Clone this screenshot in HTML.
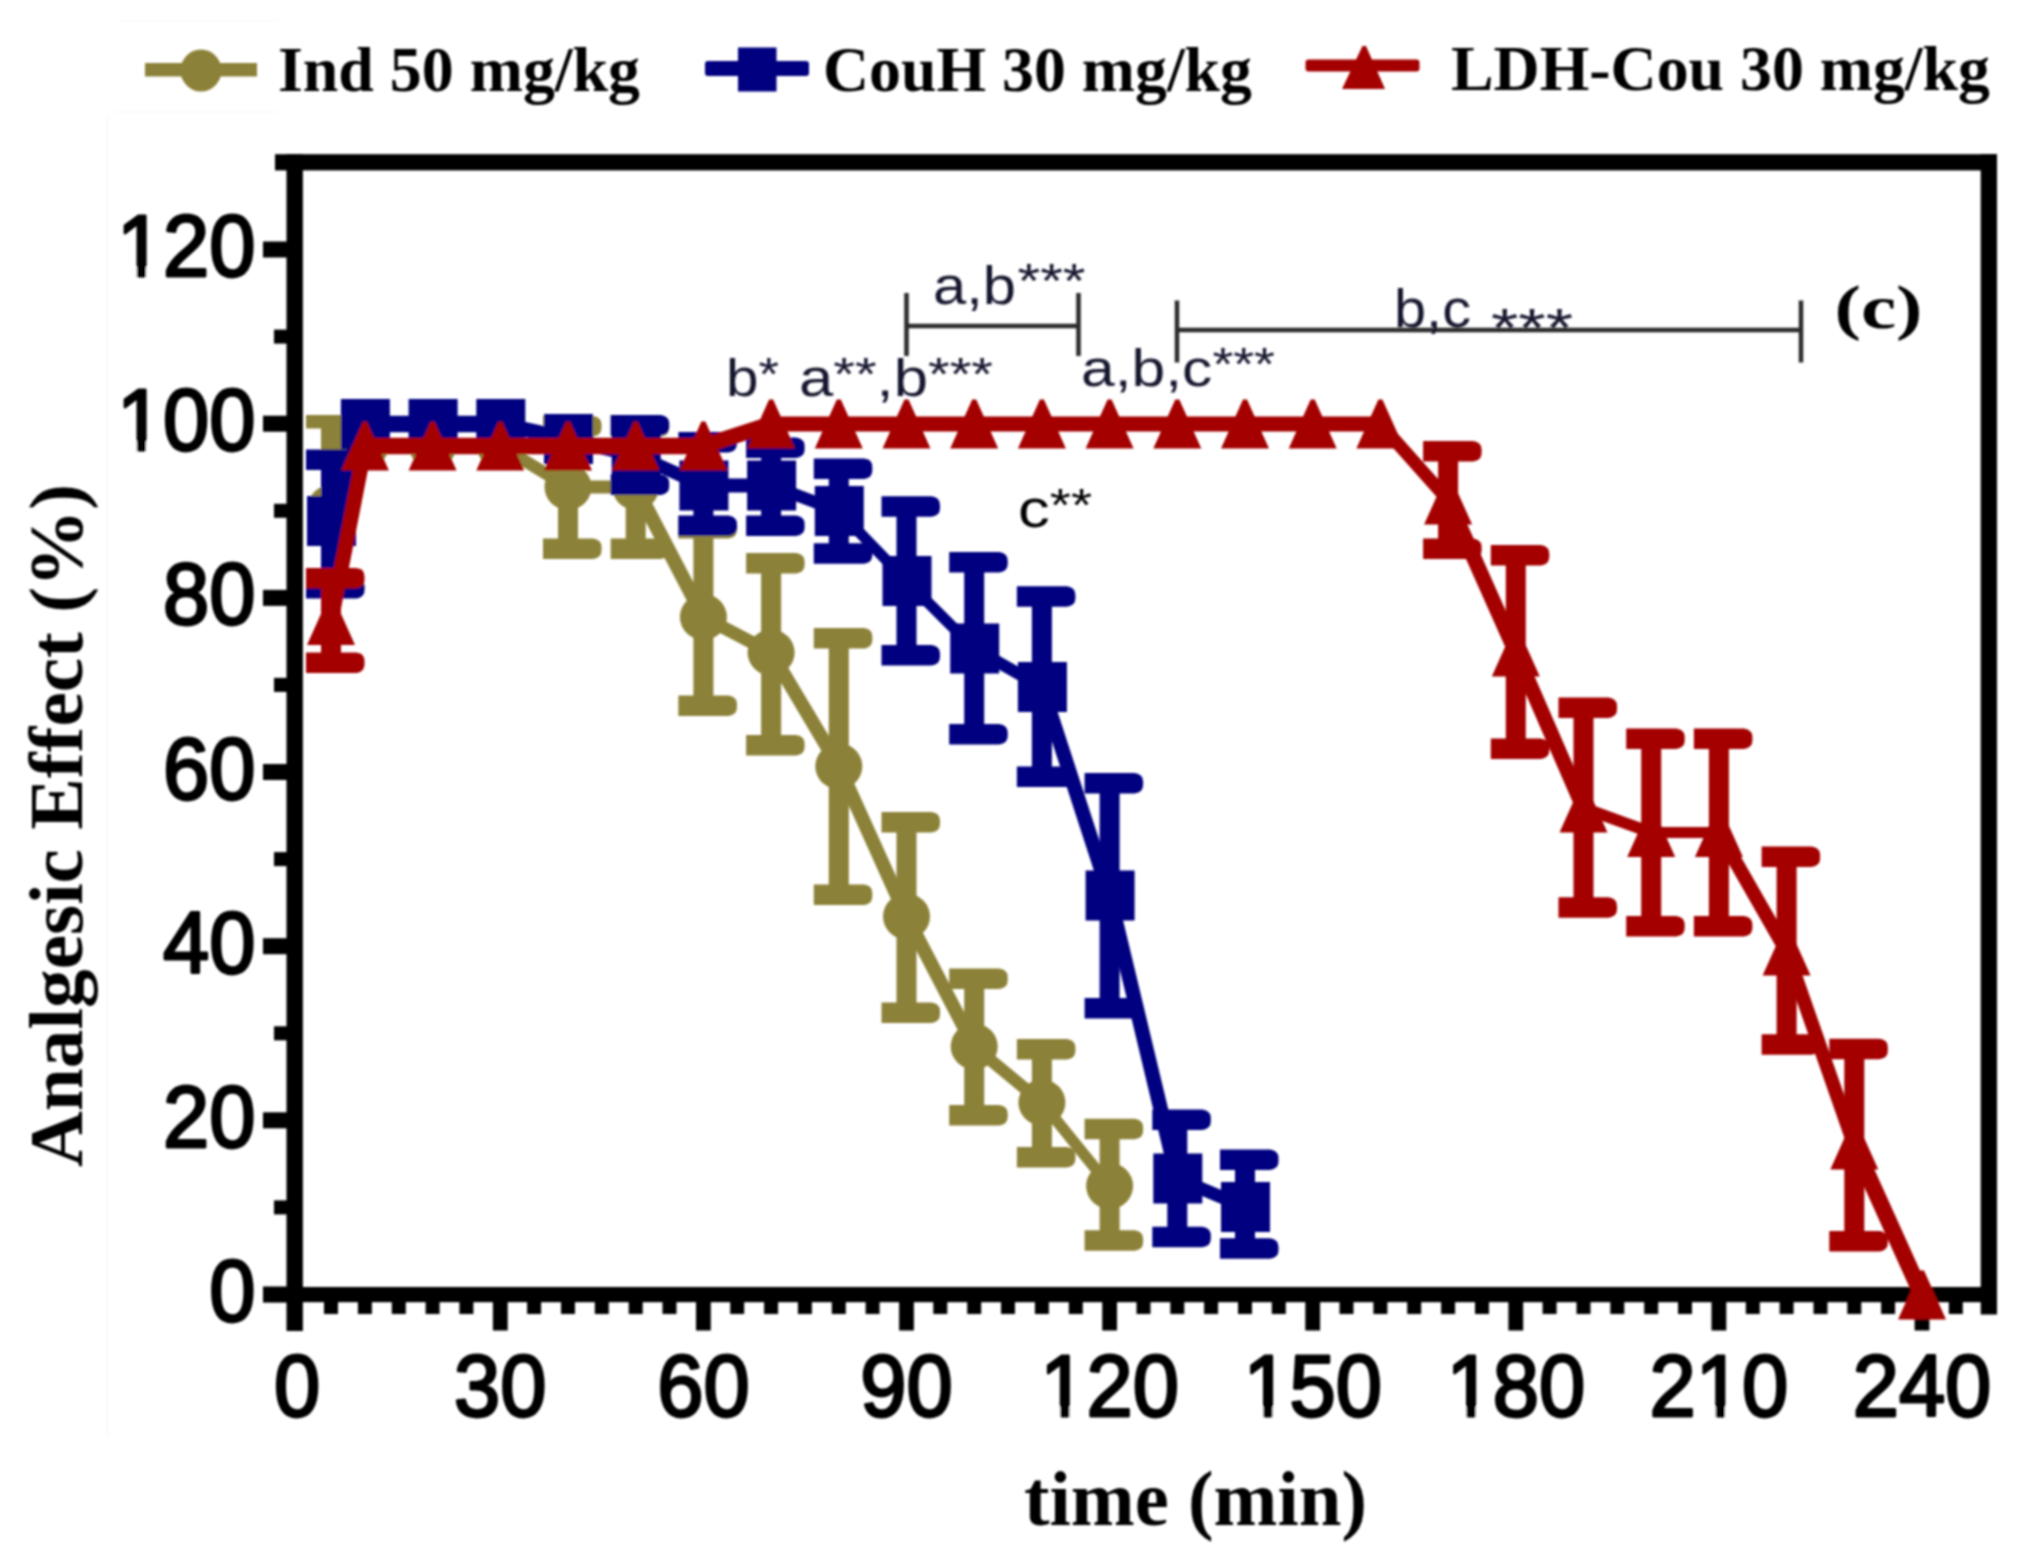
<!DOCTYPE html>
<html><head><meta charset="utf-8"><title>Analgesic Effect chart</title>
<style>html,body{margin:0;padding:0;background:#fff}svg{display:block}</style></head>
<body>
<svg width="2021" height="1563" viewBox="0 0 2021 1563">
<defs><filter id="soft" x="0" y="0" width="2021" height="1563" filterUnits="userSpaceOnUse"><feGaussianBlur stdDeviation="0.9"/></filter></defs>
<rect width="2021" height="1563" fill="#fff"/>
<g filter="url(#soft)">
<g fill="#000">
<rect x="275" y="154.2" width="1722" height="16.2"/>
<rect x="286.5" y="154.2" width="16.4" height="1176.8"/>
<rect x="1980.7" y="154.2" width="16.3" height="1160.3"/>
<rect x="263" y="1287" width="1734" height="15.2"/>
<rect x="263" y="1286.5" width="30" height="16"/>
<rect x="274" y="1200.4" width="20" height="14"/>
<rect x="263" y="1112.3" width="30" height="16"/>
<rect x="274" y="1026.3" width="20" height="14"/>
<rect x="263" y="938.2" width="30" height="16"/>
<rect x="274" y="852.1" width="20" height="14"/>
<rect x="263" y="764.0" width="30" height="16"/>
<rect x="274" y="677.9" width="20" height="14"/>
<rect x="263" y="589.9" width="30" height="16"/>
<rect x="274" y="503.8" width="20" height="14"/>
<rect x="263" y="415.7" width="30" height="16"/>
<rect x="274" y="329.6" width="20" height="14"/>
<rect x="263" y="241.5" width="30" height="16"/>
<rect x="324.0" y="1295" width="14" height="19"/>
<rect x="357.9" y="1295" width="14" height="19"/>
<rect x="391.8" y="1295" width="14" height="19"/>
<rect x="425.6" y="1295" width="14" height="19"/>
<rect x="459.4" y="1295" width="14" height="19"/>
<rect x="492.9" y="1295" width="14.8" height="35.5"/>
<rect x="527.1" y="1295" width="14" height="19"/>
<rect x="561.0" y="1295" width="14" height="19"/>
<rect x="594.8" y="1295" width="14" height="19"/>
<rect x="628.7" y="1295" width="14" height="19"/>
<rect x="662.5" y="1295" width="14" height="19"/>
<rect x="696.0" y="1295" width="14.8" height="35.5"/>
<rect x="730.2" y="1295" width="14" height="19"/>
<rect x="764.1" y="1295" width="14" height="19"/>
<rect x="797.9" y="1295" width="14" height="19"/>
<rect x="831.8" y="1295" width="14" height="19"/>
<rect x="865.6" y="1295" width="14" height="19"/>
<rect x="899.1" y="1295" width="14.8" height="35.5"/>
<rect x="933.3" y="1295" width="14" height="19"/>
<rect x="967.2" y="1295" width="14" height="19"/>
<rect x="1001.0" y="1295" width="14" height="19"/>
<rect x="1034.9" y="1295" width="14" height="19"/>
<rect x="1068.8" y="1295" width="14" height="19"/>
<rect x="1102.2" y="1295" width="14.8" height="35.5"/>
<rect x="1136.5" y="1295" width="14" height="19"/>
<rect x="1170.3" y="1295" width="14" height="19"/>
<rect x="1204.1" y="1295" width="14" height="19"/>
<rect x="1238.0" y="1295" width="14" height="19"/>
<rect x="1271.8" y="1295" width="14" height="19"/>
<rect x="1305.3" y="1295" width="14.8" height="35.5"/>
<rect x="1339.5" y="1295" width="14" height="19"/>
<rect x="1373.4" y="1295" width="14" height="19"/>
<rect x="1407.2" y="1295" width="14" height="19"/>
<rect x="1441.1" y="1295" width="14" height="19"/>
<rect x="1475.0" y="1295" width="14" height="19"/>
<rect x="1508.4" y="1295" width="14.8" height="35.5"/>
<rect x="1542.6" y="1295" width="14" height="19"/>
<rect x="1576.5" y="1295" width="14" height="19"/>
<rect x="1610.3" y="1295" width="14" height="19"/>
<rect x="1644.2" y="1295" width="14" height="19"/>
<rect x="1678.0" y="1295" width="14" height="19"/>
<rect x="1711.5" y="1295" width="14.8" height="35.5"/>
<rect x="1745.8" y="1295" width="14" height="19"/>
<rect x="1779.6" y="1295" width="14" height="19"/>
<rect x="1813.5" y="1295" width="14" height="19"/>
<rect x="1847.3" y="1295" width="14" height="19"/>
<rect x="1881.1" y="1295" width="14" height="19"/>
<rect x="1914.6" y="1295" width="14.8" height="35.5"/>
<rect x="1948.8" y="1295" width="14" height="19"/>
<rect x="1982.7" y="1295" width="14" height="19"/>
</g>
<g font-family="'Liberation Sans',Arial,sans-serif" font-size="87" fill="#000" stroke="#000" stroke-width="2.9" stroke-linejoin="round">
<text x="209.3" y="1321.0" textLength="46.2" lengthAdjust="spacingAndGlyphs">0</text>
<text x="163.1" y="1146.8" textLength="92.4" lengthAdjust="spacingAndGlyphs">20</text>
<text x="163.1" y="972.7" textLength="92.4" lengthAdjust="spacingAndGlyphs">40</text>
<text x="163.1" y="798.5" textLength="92.4" lengthAdjust="spacingAndGlyphs">60</text>
<text x="163.1" y="624.4" textLength="92.4" lengthAdjust="spacingAndGlyphs">80</text>
<text x="116.9" y="450.2" textLength="138.6" lengthAdjust="spacingAndGlyphs">100</text>
<text x="116.9" y="276.0" textLength="138.6" lengthAdjust="spacingAndGlyphs">120</text>
<text x="274.1" y="1415.5" textLength="46.2" lengthAdjust="spacingAndGlyphs">0</text>
<text x="454.1" y="1415.5" textLength="92.4" lengthAdjust="spacingAndGlyphs">30</text>
<text x="657.2" y="1415.5" textLength="92.4" lengthAdjust="spacingAndGlyphs">60</text>
<text x="860.3" y="1415.5" textLength="92.4" lengthAdjust="spacingAndGlyphs">90</text>
<text x="1040.3" y="1415.5" textLength="138.6" lengthAdjust="spacingAndGlyphs">120</text>
<text x="1243.4" y="1415.5" textLength="138.6" lengthAdjust="spacingAndGlyphs">150</text>
<text x="1446.5" y="1415.5" textLength="138.6" lengthAdjust="spacingAndGlyphs">180</text>
<text x="1649.6" y="1415.5" textLength="138.6" lengthAdjust="spacingAndGlyphs">210</text>
<text x="1852.7" y="1415.5" textLength="138.6" lengthAdjust="spacingAndGlyphs">240</text>
</g>
<rect x="118.9" y="441.5" width="17.9" height="11.5" fill="#fff"/><rect x="146.05" y="441.5" width="15.8" height="11.5" fill="#fff"/>
<rect x="118.9" y="267.3" width="17.9" height="11.5" fill="#fff"/><rect x="146.05" y="267.3" width="15.8" height="11.5" fill="#fff"/>
<rect x="1042.3" y="1406.8" width="17.9" height="11.5" fill="#fff"/><rect x="1069.45" y="1406.8" width="15.8" height="11.5" fill="#fff"/>
<rect x="1245.4" y="1406.8" width="17.9" height="11.5" fill="#fff"/><rect x="1272.55" y="1406.8" width="15.8" height="11.5" fill="#fff"/>
<rect x="1448.5" y="1406.8" width="17.9" height="11.5" fill="#fff"/><rect x="1475.65" y="1406.8" width="15.8" height="11.5" fill="#fff"/>
<rect x="1697.8" y="1406.8" width="17.9" height="11.5" fill="#fff"/><rect x="1724.95" y="1406.8" width="15.8" height="11.5" fill="#fff"/>
<rect x="321.0" y="417.0" width="20" height="179.0" fill="#8c8138"/>
<path d="M306.0 415.0H357.8Q364.5 416.0 364.5 421.8V421.8Q364.5 427.5 357.8 428.5H306.0Z" fill="#8c8138"/>
<path d="M306.0 577.5H356.0Q364.5 578.5 364.5 586.0V589.5Q364.5 597.0 356.0 598.0H306.0Z" fill="#8c8138"/>
<rect x="558.0" y="418.0" width="20" height="139.0" fill="#8c8138"/>
<path d="M543.0 416.0H593.0Q601.5 417.0 601.5 424.5V428.0Q601.5 435.5 593.0 436.5H543.0Z" fill="#8c8138"/>
<path d="M543.0 538.5H593.0Q601.5 539.5 601.5 547.0V550.5Q601.5 558.0 593.0 559.0H543.0Z" fill="#8c8138"/>
<rect x="625.7" y="418.0" width="20" height="139.0" fill="#8c8138"/>
<path d="M610.7 416.0H660.7Q669.2 417.0 669.2 424.5V428.0Q669.2 435.5 660.7 436.5H610.7Z" fill="#8c8138"/>
<path d="M610.7 538.5H660.7Q669.2 539.5 669.2 547.0V550.5Q669.2 558.0 660.7 559.0H610.7Z" fill="#8c8138"/>
<rect x="693.4" y="520.0" width="20" height="194.0" fill="#8c8138"/>
<path d="M678.4 518.0H728.4Q736.9 519.0 736.9 526.5V530.0Q736.9 537.5 728.4 538.5H678.4Z" fill="#8c8138"/>
<path d="M678.4 695.5H728.4Q736.9 696.5 736.9 704.0V707.5Q736.9 715.0 728.4 716.0H678.4Z" fill="#8c8138"/>
<rect x="761.1" y="555.0" width="20" height="198.4" fill="#8c8138"/>
<path d="M746.1 553.0H796.1Q804.6 554.0 804.6 561.5V565.0Q804.6 572.5 796.1 573.5H746.1Z" fill="#8c8138"/>
<path d="M746.1 734.9H796.1Q804.6 735.9 804.6 743.4V746.9Q804.6 754.4 796.1 755.4H746.1Z" fill="#8c8138"/>
<rect x="828.8" y="630.0" width="20" height="273.0" fill="#8c8138"/>
<path d="M813.8 628.0H863.8Q872.3 629.0 872.3 636.5V640.0Q872.3 647.5 863.8 648.5H813.8Z" fill="#8c8138"/>
<path d="M813.8 884.5H863.8Q872.3 885.5 872.3 893.0V896.5Q872.3 904.0 863.8 905.0H813.8Z" fill="#8c8138"/>
<rect x="896.5" y="814.0" width="20" height="207.0" fill="#8c8138"/>
<path d="M881.5 812.0H931.5Q940.0 813.0 940.0 820.5V824.0Q940.0 831.5 931.5 832.5H881.5Z" fill="#8c8138"/>
<path d="M881.5 1002.5H931.5Q940.0 1003.5 940.0 1011.0V1014.5Q940.0 1022.0 931.5 1023.0H881.5Z" fill="#8c8138"/>
<rect x="964.2" y="970.5" width="20" height="153.0" fill="#8c8138"/>
<path d="M949.2 968.5H999.2Q1007.7 969.5 1007.7 977.0V980.5Q1007.7 988.0 999.2 989.0H949.2Z" fill="#8c8138"/>
<path d="M949.2 1105.0H999.2Q1007.7 1106.0 1007.7 1113.5V1117.0Q1007.7 1124.5 999.2 1125.5H949.2Z" fill="#8c8138"/>
<rect x="1031.9" y="1041.0" width="20" height="124.6" fill="#8c8138"/>
<path d="M1016.9 1039.0H1066.9Q1075.4 1040.0 1075.4 1047.5V1051.0Q1075.4 1058.5 1066.9 1059.5H1016.9Z" fill="#8c8138"/>
<path d="M1016.9 1147.1H1066.9Q1075.4 1148.1 1075.4 1155.6V1159.1Q1075.4 1166.6 1066.9 1167.6H1016.9Z" fill="#8c8138"/>
<rect x="1099.6" y="1120.7" width="20" height="128.0" fill="#8c8138"/>
<path d="M1084.6 1118.7H1134.6Q1143.1 1119.7 1143.1 1127.2V1130.7Q1143.1 1138.2 1134.6 1139.2H1084.6Z" fill="#8c8138"/>
<path d="M1084.6 1230.2H1134.6Q1143.1 1231.2 1143.1 1238.7V1242.2Q1143.1 1249.7 1134.6 1250.7H1084.6Z" fill="#8c8138"/>
<path d="M336.8 511.1L370.6 449.1L359.2 442.9L325.3 504.9Z" fill="#8c8138"/>
<circle cx="364.9" cy="446.0" r="6.0" fill="#8c8138"/>
<path d="M364.9 452.5L432.6 452.5L432.6 439.5L364.9 439.5Z" fill="#8c8138"/>
<circle cx="432.6" cy="446.0" r="6.0" fill="#8c8138"/>
<path d="M432.6 452.5L500.3 452.5L500.3 439.5L432.6 439.5Z" fill="#8c8138"/>
<circle cx="500.3" cy="446.0" r="6.0" fill="#8c8138"/>
<path d="M497.1 451.3L564.8 492.3L571.2 481.7L503.5 440.7Z" fill="#8c8138"/>
<circle cx="568.0" cy="487.0" r="5.8" fill="#8c8138"/>
<path d="M568.0 493.5L635.7 493.5L635.7 480.5L568.0 480.5Z" fill="#8c8138"/>
<circle cx="635.7" cy="487.0" r="6.0" fill="#8c8138"/>
<path d="M629.3 490.3L697.0 620.3L709.8 613.7L642.1 483.7Z" fill="#8c8138"/>
<circle cx="703.4" cy="617.0" r="6.8" fill="#8c8138"/>
<path d="M700.4 622.8L768.1 658.3L774.1 646.7L706.4 611.2Z" fill="#8c8138"/>
<circle cx="771.1" cy="652.5" r="6.0" fill="#8c8138"/>
<path d="M765.1 656.1L832.8 769.9L844.8 762.7L777.1 648.9Z" fill="#8c8138"/>
<circle cx="838.8" cy="766.3" r="6.5" fill="#8c8138"/>
<path d="M832.4 769.2L900.1 919.4L912.9 913.6L845.2 763.4Z" fill="#8c8138"/>
<circle cx="906.5" cy="916.5" r="6.5" fill="#8c8138"/>
<path d="M900.3 919.7L968.0 1049.7L980.4 1043.3L912.7 913.3Z" fill="#8c8138"/>
<circle cx="974.2" cy="1046.5" r="6.5" fill="#8c8138"/>
<path d="M970.3 1051.2L1038.0 1107.2L1045.8 1097.8L978.1 1041.8Z" fill="#8c8138"/>
<circle cx="1041.9" cy="1102.5" r="5.7" fill="#8c8138"/>
<path d="M1037.4 1106.1L1105.1 1189.6L1114.1 1182.4L1046.4 1098.9Z" fill="#8c8138"/>
<circle cx="1109.6" cy="1186.0" r="5.2" fill="#8c8138"/>
<ellipse cx="331.0" cy="508.0" rx="23.5" ry="23" fill="#8c8138"/>
<ellipse cx="364.9" cy="446.0" rx="23.5" ry="23" fill="#8c8138"/>
<ellipse cx="432.6" cy="446.0" rx="23.5" ry="23" fill="#8c8138"/>
<ellipse cx="500.3" cy="446.0" rx="23.5" ry="23" fill="#8c8138"/>
<ellipse cx="568.0" cy="487.0" rx="23.5" ry="23" fill="#8c8138"/>
<ellipse cx="635.7" cy="487.0" rx="23.5" ry="23" fill="#8c8138"/>
<ellipse cx="703.4" cy="617.0" rx="23.5" ry="23" fill="#8c8138"/>
<ellipse cx="771.1" cy="652.5" rx="23.5" ry="23" fill="#8c8138"/>
<ellipse cx="838.8" cy="766.3" rx="23.5" ry="23" fill="#8c8138"/>
<ellipse cx="906.5" cy="916.5" rx="23.5" ry="23" fill="#8c8138"/>
<ellipse cx="974.2" cy="1046.5" rx="23.5" ry="23" fill="#8c8138"/>
<ellipse cx="1041.9" cy="1102.5" rx="23.5" ry="23" fill="#8c8138"/>
<ellipse cx="1109.6" cy="1186.0" rx="23.5" ry="23" fill="#8c8138"/>
<rect x="321.0" y="451.5" width="20" height="145.0" fill="#000080"/>
<path d="M306.0 449.5H356.0Q364.5 450.5 364.5 458.0V461.5Q364.5 469.0 356.0 470.0H306.0Z" fill="#000080"/>
<path d="M306.0 578.0H356.0Q364.5 579.0 364.5 586.5V590.0Q364.5 597.5 356.0 598.5H306.0Z" fill="#000080"/>
<rect x="625.7" y="417.0" width="20" height="76.0" fill="#000080"/>
<path d="M610.7 415.0H660.7Q669.2 416.0 669.2 423.5V427.0Q669.2 434.5 660.7 435.5H610.7Z" fill="#000080"/>
<path d="M610.7 474.5H660.7Q669.2 475.5 669.2 483.0V486.5Q669.2 494.0 660.7 495.0H610.7Z" fill="#000080"/>
<rect x="693.4" y="434.0" width="20" height="100.0" fill="#000080"/>
<path d="M678.4 432.0H728.4Q736.9 433.0 736.9 440.5V444.0Q736.9 451.5 728.4 452.5H678.4Z" fill="#000080"/>
<path d="M678.4 515.5H728.4Q736.9 516.5 736.9 524.0V527.5Q736.9 535.0 728.4 536.0H678.4Z" fill="#000080"/>
<rect x="761.1" y="439.5" width="20" height="94.5" fill="#000080"/>
<path d="M746.1 437.5H796.1Q804.6 438.5 804.6 446.0V449.5Q804.6 457.0 796.1 458.0H746.1Z" fill="#000080"/>
<path d="M746.1 515.5H796.1Q804.6 516.5 804.6 524.0V527.5Q804.6 535.0 796.1 536.0H746.1Z" fill="#000080"/>
<rect x="828.8" y="460.4" width="20" height="101.3" fill="#000080"/>
<path d="M813.8 458.4H863.8Q872.3 459.4 872.3 466.9V470.4Q872.3 477.9 863.8 478.9H813.8Z" fill="#000080"/>
<path d="M813.8 543.2H863.8Q872.3 544.2 872.3 551.7V555.2Q872.3 562.7 863.8 563.7H813.8Z" fill="#000080"/>
<rect x="896.5" y="498.3" width="20" height="165.2" fill="#000080"/>
<path d="M881.5 496.3H931.5Q940.0 497.3 940.0 504.8V508.3Q940.0 515.8 931.5 516.8H881.5Z" fill="#000080"/>
<path d="M881.5 645.0H931.5Q940.0 646.0 940.0 653.5V657.0Q940.0 664.5 931.5 665.5H881.5Z" fill="#000080"/>
<rect x="964.2" y="554.0" width="20" height="188.6" fill="#000080"/>
<path d="M949.2 552.0H999.2Q1007.7 553.0 1007.7 560.5V564.0Q1007.7 571.5 999.2 572.5H949.2Z" fill="#000080"/>
<path d="M949.2 724.1H999.2Q1007.7 725.1 1007.7 732.6V736.1Q1007.7 743.6 999.2 744.6H949.2Z" fill="#000080"/>
<rect x="1031.9" y="588.2" width="20" height="196.8" fill="#000080"/>
<path d="M1016.9 586.2H1066.9Q1075.4 587.2 1075.4 594.7V598.2Q1075.4 605.7 1066.9 606.7H1016.9Z" fill="#000080"/>
<path d="M1016.9 766.5H1066.9Q1075.4 767.5 1075.4 775.0V778.5Q1075.4 786.0 1066.9 787.0H1016.9Z" fill="#000080"/>
<rect x="1099.6" y="775.0" width="20" height="241.5" fill="#000080"/>
<path d="M1084.6 773.0H1134.6Q1143.1 774.0 1143.1 781.5V785.0Q1143.1 792.5 1134.6 793.5H1084.6Z" fill="#000080"/>
<path d="M1084.6 998.0H1134.6Q1143.1 999.0 1143.1 1006.5V1010.0Q1143.1 1017.5 1134.6 1018.5H1084.6Z" fill="#000080"/>
<rect x="1167.3" y="1111.6" width="20" height="133.7" fill="#000080"/>
<path d="M1152.3 1109.6H1202.3Q1210.8 1110.6 1210.8 1118.1V1121.6Q1210.8 1129.1 1202.3 1130.1H1152.3Z" fill="#000080"/>
<path d="M1152.3 1226.8H1202.3Q1210.8 1227.8 1210.8 1235.3V1238.8Q1210.8 1246.3 1202.3 1247.3H1152.3Z" fill="#000080"/>
<rect x="1235.0" y="1151.4" width="20" height="105.3" fill="#000080"/>
<path d="M1220.0 1149.4H1270.0Q1278.5 1150.4 1278.5 1157.9V1161.4Q1278.5 1168.9 1270.0 1169.9H1220.0Z" fill="#000080"/>
<path d="M1220.0 1238.2H1270.0Q1278.5 1239.2 1278.5 1246.7V1250.2Q1278.5 1257.7 1270.0 1258.7H1220.0Z" fill="#000080"/>
<path d="M339.1 523.8L372.9 426.8L356.9 421.2L323.0 518.2Z" fill="#000080"/>
<circle cx="364.9" cy="424.0" r="8.0" fill="#000080"/>
<path d="M364.9 432.3L432.6 432.3L432.6 415.7L364.9 415.7Z" fill="#000080"/>
<circle cx="432.6" cy="424.0" r="7.8" fill="#000080"/>
<path d="M432.6 432.3L500.3 432.3L500.3 415.7L432.6 415.7Z" fill="#000080"/>
<circle cx="500.3" cy="424.0" r="7.8" fill="#000080"/>
<path d="M498.7 431.3L566.4 446.3L569.6 431.7L501.9 416.7Z" fill="#000080"/>
<circle cx="568.0" cy="439.0" r="7.0" fill="#000080"/>
<path d="M566.3 446.3L634.0 462.3L637.4 447.7L569.7 431.7Z" fill="#000080"/>
<circle cx="635.7" cy="455.0" r="7.0" fill="#000080"/>
<path d="M633.0 460.9L700.7 491.4L706.1 479.6L638.4 449.1Z" fill="#000080"/>
<circle cx="703.4" cy="485.5" r="6.0" fill="#000080"/>
<path d="M703.4 492.5L771.1 492.5L771.1 478.5L703.4 478.5Z" fill="#000080"/>
<circle cx="771.1" cy="485.5" r="6.5" fill="#000080"/>
<path d="M768.9 491.3L836.6 516.8L841.0 505.2L773.3 479.7Z" fill="#000080"/>
<circle cx="838.8" cy="511.0" r="5.8" fill="#000080"/>
<path d="M834.8 514.8L902.5 584.8L910.5 577.2L842.8 507.2Z" fill="#000080"/>
<circle cx="906.5" cy="581.0" r="5.0" fill="#000080"/>
<path d="M902.6 584.9L970.3 652.4L978.1 644.6L910.4 577.1Z" fill="#000080"/>
<circle cx="974.2" cy="648.5" r="5.0" fill="#000080"/>
<path d="M971.2 653.7L1038.9 692.2L1044.9 681.8L977.2 643.3Z" fill="#000080"/>
<circle cx="1041.9" cy="687.0" r="5.5" fill="#000080"/>
<path d="M1035.0 689.2L1102.7 897.7L1116.5 893.3L1048.8 684.8Z" fill="#000080"/>
<circle cx="1109.6" cy="895.5" r="6.8" fill="#000080"/>
<path d="M1102.5 897.2L1170.2 1180.2L1184.4 1176.8L1116.7 893.8Z" fill="#000080"/>
<circle cx="1177.3" cy="1178.5" r="6.8" fill="#000080"/>
<path d="M1174.8 1184.5L1242.5 1213.0L1247.5 1201.0L1179.8 1172.5Z" fill="#000080"/>
<circle cx="1245.0" cy="1207.0" r="6.0" fill="#000080"/>
<rect x="307.0" y="496.0" width="49" height="50" fill="#000080"/>
<rect x="340.9" y="399.0" width="49" height="50" fill="#000080"/>
<rect x="408.6" y="399.0" width="49" height="50" fill="#000080"/>
<rect x="476.3" y="399.0" width="49" height="50" fill="#000080"/>
<rect x="544.0" y="414.0" width="49" height="50" fill="#000080"/>
<rect x="611.7" y="430.0" width="49" height="50" fill="#000080"/>
<rect x="679.4" y="460.5" width="49" height="50" fill="#000080"/>
<rect x="747.1" y="460.5" width="49" height="50" fill="#000080"/>
<rect x="814.8" y="486.0" width="49" height="50" fill="#000080"/>
<rect x="882.5" y="556.0" width="49" height="50" fill="#000080"/>
<rect x="950.2" y="623.5" width="49" height="50" fill="#000080"/>
<rect x="1017.9" y="662.0" width="49" height="50" fill="#000080"/>
<rect x="1085.6" y="870.5" width="49" height="50" fill="#000080"/>
<rect x="1153.3" y="1153.5" width="49" height="50" fill="#000080"/>
<rect x="1221.0" y="1182.0" width="49" height="50" fill="#000080"/>
<rect x="321.0" y="570.0" width="20" height="101.0" fill="#a40000"/>
<path d="M306.0 568.0H356.0Q364.5 569.0 364.5 576.5V580.0Q364.5 587.5 356.0 588.5H306.0Z" fill="#a40000"/>
<path d="M306.0 652.5H356.0Q364.5 653.5 364.5 661.0V664.5Q364.5 672.0 356.0 673.0H306.0Z" fill="#a40000"/>
<rect x="1438.1" y="443.0" width="20" height="114.0" fill="#a40000"/>
<path d="M1423.1 441.0H1473.1Q1481.6 442.0 1481.6 449.5V453.0Q1481.6 460.5 1473.1 461.5H1423.1Z" fill="#a40000"/>
<path d="M1423.1 538.5H1473.1Q1481.6 539.5 1481.6 547.0V550.5Q1481.6 558.0 1473.1 559.0H1423.1Z" fill="#a40000"/>
<rect x="1505.8" y="547.0" width="20" height="210.0" fill="#a40000"/>
<path d="M1490.8 545.0H1540.8Q1549.3 546.0 1549.3 553.5V557.0Q1549.3 564.5 1540.8 565.5H1490.8Z" fill="#a40000"/>
<path d="M1490.8 738.5H1540.8Q1549.3 739.5 1549.3 747.0V750.5Q1549.3 758.0 1540.8 759.0H1490.8Z" fill="#a40000"/>
<rect x="1573.5" y="699.5" width="20" height="216.3" fill="#a40000"/>
<path d="M1558.5 697.5H1608.5Q1617.0 698.5 1617.0 706.0V709.5Q1617.0 717.0 1608.5 718.0H1558.5Z" fill="#a40000"/>
<path d="M1558.5 897.3H1608.5Q1617.0 898.3 1617.0 905.8V909.3Q1617.0 916.8 1608.5 917.8H1558.5Z" fill="#a40000"/>
<rect x="1641.2" y="730.4" width="20" height="204.2" fill="#a40000"/>
<path d="M1626.2 728.4H1676.2Q1684.7 729.4 1684.7 736.9V740.4Q1684.7 747.9 1676.2 748.9H1626.2Z" fill="#a40000"/>
<path d="M1626.2 916.1H1676.2Q1684.7 917.1 1684.7 924.6V928.1Q1684.7 935.6 1676.2 936.6H1626.2Z" fill="#a40000"/>
<rect x="1708.9" y="730.4" width="20" height="204.2" fill="#a40000"/>
<path d="M1693.9 728.4H1743.9Q1752.4 729.4 1752.4 736.9V740.4Q1752.4 747.9 1743.9 748.9H1693.9Z" fill="#a40000"/>
<path d="M1693.9 916.1H1743.9Q1752.4 917.1 1752.4 924.6V928.1Q1752.4 935.6 1743.9 936.6H1693.9Z" fill="#a40000"/>
<rect x="1776.6" y="848.6" width="20" height="204.2" fill="#a40000"/>
<path d="M1761.6 846.6H1811.6Q1820.1 847.6 1820.1 855.1V858.6Q1820.1 866.1 1811.6 867.1H1761.6Z" fill="#a40000"/>
<path d="M1761.6 1034.3H1811.6Q1820.1 1035.3 1820.1 1042.8V1046.3Q1820.1 1053.8 1811.6 1054.8H1761.6Z" fill="#a40000"/>
<rect x="1844.3" y="1040.7" width="20" height="208.9" fill="#a40000"/>
<path d="M1829.3 1038.7H1879.3Q1887.8 1039.7 1887.8 1047.2V1050.7Q1887.8 1058.2 1879.3 1059.2H1829.3Z" fill="#a40000"/>
<path d="M1829.3 1231.1H1879.3Q1887.8 1232.1 1887.8 1239.6V1243.1Q1887.8 1250.6 1879.3 1251.6H1829.3Z" fill="#a40000"/>
<path d="M338.4 621.9L372.3 447.4L357.5 444.6L323.7 619.1Z" fill="#a40000"/>
<circle cx="364.9" cy="446.0" r="7.0" fill="#a40000"/>
<path d="M364.9 454.3L432.6 454.3L432.6 437.7L364.9 437.7Z" fill="#a40000"/>
<circle cx="432.6" cy="446.0" r="7.8" fill="#a40000"/>
<path d="M432.6 454.3L500.3 454.3L500.3 437.7L432.6 437.7Z" fill="#a40000"/>
<circle cx="500.3" cy="446.0" r="7.8" fill="#a40000"/>
<path d="M500.3 454.3L568.0 454.3L568.0 437.7L500.3 437.7Z" fill="#a40000"/>
<circle cx="568.0" cy="446.0" r="7.8" fill="#a40000"/>
<path d="M568.0 454.3L635.7 454.3L635.7 437.7L568.0 437.7Z" fill="#a40000"/>
<circle cx="635.7" cy="446.0" r="7.8" fill="#a40000"/>
<path d="M635.7 454.3L703.4 454.3L703.4 437.7L635.7 437.7Z" fill="#a40000"/>
<circle cx="703.4" cy="446.0" r="7.8" fill="#a40000"/>
<path d="M705.8 453.4L773.5 431.4L768.7 416.6L701.0 438.6Z" fill="#a40000"/>
<circle cx="771.1" cy="424.0" r="7.2" fill="#a40000"/>
<path d="M771.1 431.4L838.8 431.4L838.8 416.6L771.1 416.6Z" fill="#a40000"/>
<circle cx="838.8" cy="424.0" r="6.9" fill="#a40000"/>
<path d="M838.8 431.4L906.5 431.4L906.5 416.6L838.8 416.6Z" fill="#a40000"/>
<circle cx="906.5" cy="424.0" r="6.9" fill="#a40000"/>
<path d="M906.5 431.4L974.2 431.4L974.2 416.6L906.5 416.6Z" fill="#a40000"/>
<circle cx="974.2" cy="424.0" r="6.9" fill="#a40000"/>
<path d="M974.2 431.4L1041.9 431.4L1041.9 416.6L974.2 416.6Z" fill="#a40000"/>
<circle cx="1041.9" cy="424.0" r="6.9" fill="#a40000"/>
<path d="M1041.9 431.4L1109.6 431.4L1109.6 416.6L1041.9 416.6Z" fill="#a40000"/>
<circle cx="1109.6" cy="424.0" r="6.9" fill="#a40000"/>
<path d="M1109.6 431.4L1177.3 431.4L1177.3 416.6L1109.6 416.6Z" fill="#a40000"/>
<circle cx="1177.3" cy="424.0" r="6.9" fill="#a40000"/>
<path d="M1177.3 431.4L1245.0 431.4L1245.0 416.6L1177.3 416.6Z" fill="#a40000"/>
<circle cx="1245.0" cy="424.0" r="6.9" fill="#a40000"/>
<path d="M1245.0 431.4L1312.7 431.4L1312.7 416.6L1245.0 416.6Z" fill="#a40000"/>
<circle cx="1312.7" cy="424.0" r="6.9" fill="#a40000"/>
<path d="M1312.7 431.4L1380.4 431.4L1380.4 416.6L1312.7 416.6Z" fill="#a40000"/>
<circle cx="1380.4" cy="424.0" r="6.9" fill="#a40000"/>
<path d="M1375.5 428.3L1443.2 504.3L1453.0 495.7L1385.3 419.7Z" fill="#a40000"/>
<circle cx="1448.1" cy="500.0" r="6.0" fill="#a40000"/>
<path d="M1441.1 503.1L1508.8 655.1L1522.8 648.9L1455.1 496.9Z" fill="#a40000"/>
<circle cx="1515.8" cy="652.0" r="7.2" fill="#a40000"/>
<path d="M1508.9 655.0L1576.6 811.0L1590.4 805.0L1522.7 649.0Z" fill="#a40000"/>
<circle cx="1583.5" cy="808.0" r="7.0" fill="#a40000"/>
<path d="M1581.5 813.4L1649.2 837.9L1653.2 827.1L1585.5 802.6Z" fill="#a40000"/>
<circle cx="1651.2" cy="832.5" r="5.2" fill="#a40000"/>
<path d="M1651.2 838.0L1718.9 838.0L1718.9 827.0L1651.2 827.0Z" fill="#a40000"/>
<circle cx="1718.9" cy="832.5" r="5.0" fill="#a40000"/>
<path d="M1712.8 836.0L1780.5 954.5L1792.7 947.5L1725.0 829.0Z" fill="#a40000"/>
<circle cx="1786.6" cy="951.0" r="6.5" fill="#a40000"/>
<path d="M1780.0 953.3L1847.7 1147.3L1860.9 1142.7L1793.2 948.7Z" fill="#a40000"/>
<circle cx="1854.3" cy="1145.0" r="6.5" fill="#a40000"/>
<path d="M1846.8 1148.4L1914.5 1298.4L1929.5 1291.6L1861.8 1141.6Z" fill="#a40000"/>
<circle cx="1922.0" cy="1295.0" r="7.8" fill="#a40000"/>
<path d="M329.0 596.0H333.0L355.0 645.0H307.0Z" fill="#a40000"/>
<path d="M362.9 421.5H366.9L388.9 470.5H340.9Z" fill="#a40000"/>
<path d="M430.6 421.5H434.6L456.6 470.5H408.6Z" fill="#a40000"/>
<path d="M498.3 421.5H502.3L524.3 470.5H476.3Z" fill="#a40000"/>
<path d="M566.0 421.5H570.0L592.0 470.5H544.0Z" fill="#a40000"/>
<path d="M633.7 421.5H637.7L659.7 470.5H611.7Z" fill="#a40000"/>
<path d="M701.4 421.5H705.4L727.4 470.5H679.4Z" fill="#a40000"/>
<path d="M769.1 399.5H773.1L795.1 448.5H747.1Z" fill="#a40000"/>
<path d="M836.8 399.5H840.8L862.8 448.5H814.8Z" fill="#a40000"/>
<path d="M904.5 399.5H908.5L930.5 448.5H882.5Z" fill="#a40000"/>
<path d="M972.2 399.5H976.2L998.2 448.5H950.2Z" fill="#a40000"/>
<path d="M1039.9 399.5H1043.9L1065.9 448.5H1017.9Z" fill="#a40000"/>
<path d="M1107.6 399.5H1111.6L1133.6 448.5H1085.6Z" fill="#a40000"/>
<path d="M1175.3 399.5H1179.3L1201.3 448.5H1153.3Z" fill="#a40000"/>
<path d="M1243.0 399.5H1247.0L1269.0 448.5H1221.0Z" fill="#a40000"/>
<path d="M1310.7 399.5H1314.7L1336.7 448.5H1288.7Z" fill="#a40000"/>
<path d="M1378.4 399.5H1382.4L1404.4 448.5H1356.4Z" fill="#a40000"/>
<path d="M1446.1 475.5H1450.1L1472.1 524.5H1424.1Z" fill="#a40000"/>
<path d="M1513.8 627.5H1517.8L1539.8 676.5H1491.8Z" fill="#a40000"/>
<path d="M1581.5 783.5H1585.5L1607.5 832.5H1559.5Z" fill="#a40000"/>
<path d="M1649.2 808.0H1653.2L1675.2 857.0H1627.2Z" fill="#a40000"/>
<path d="M1716.9 808.0H1720.9L1742.9 857.0H1694.9Z" fill="#a40000"/>
<path d="M1784.6 926.5H1788.6L1810.6 975.5H1762.6Z" fill="#a40000"/>
<path d="M1852.3 1120.5H1856.3L1878.3 1169.5H1830.3Z" fill="#a40000"/>
<path d="M1920.0 1270.5H1924.0L1946.0 1319.5H1898.0Z" fill="#a40000"/>
<g stroke="#2a2a2a" stroke-width="4.5" fill="none">
<path d="M906.5 293V356M906.5 326H1078.5M1078.5 293V356"/>
<path d="M1177 300.5V362.5M1177 330H1801M1801 300.5V362.5"/>
</g>
<g font-family="'Liberation Sans',Arial,sans-serif" font-size="54" fill="#15152e">
<text x="933" y="304" textLength="83" lengthAdjust="spacingAndGlyphs">a,b</text>
<text x="1017.5" y="297" font-size="48" textLength="68" lengthAdjust="spacingAndGlyphs">***</text>
<text x="726" y="396" textLength="53" lengthAdjust="spacingAndGlyphs" font-size="51">b<tspan font-size="46" dy="-6">*</tspan></text>
<text x="799" y="396" textLength="194" lengthAdjust="spacingAndGlyphs" font-size="51">a<tspan font-size="46" dy="-6">**</tspan><tspan dy="6">,b</tspan><tspan font-size="46" dy="-6">***</tspan></text>
<text x="1081" y="386" textLength="194" lengthAdjust="spacingAndGlyphs" font-size="52">a,b,c<tspan font-size="46" dy="-6">***</tspan></text>
<text x="1018" y="527" textLength="74" lengthAdjust="spacingAndGlyphs" fill="#000">c<tspan font-size="46" dy="-6">**</tspan></text>
<text x="1394" y="327" textLength="77" lengthAdjust="spacingAndGlyphs">b,c</text>
<text x="1491" y="345.5" textLength="82" lengthAdjust="spacingAndGlyphs">***</text>
</g>
<g font-family="'Liberation Serif','Times New Roman',serif" font-weight="bold" fill="#000">
<text x="1834.5" y="328" font-size="62" textLength="88" lengthAdjust="spacingAndGlyphs">(c)</text>
<text x="1024" y="1525" font-size="78" textLength="343" lengthAdjust="spacingAndGlyphs">time (min)</text>
<text transform="translate(82 1167) rotate(-90)" font-size="77" textLength="683" lengthAdjust="spacingAndGlyphs">Analgesic Effect (%)</text>
<text x="278" y="90.5" font-size="64" textLength="362" lengthAdjust="spacingAndGlyphs">Ind 50 mg/kg</text>
<text x="823" y="90.5" font-size="64" textLength="429" lengthAdjust="spacingAndGlyphs">CouH 30 mg/kg</text>
<text x="1451" y="90" font-size="64" textLength="539" lengthAdjust="spacingAndGlyphs">LDH-Cou 30 mg/kg</text>
</g>
<path d="M118 20.5H280M116 112H276M107 116V1436" stroke="#f6f6f6" stroke-width="1.2" fill="none"/>
<rect x="145" y="63" width="112" height="13.5" fill="#8c8138"/><ellipse cx="201" cy="70.5" rx="20.5" ry="21" fill="#8c8138"/>
<rect x="705" y="61" width="104" height="15" rx="3" fill="#000080"/><rect x="738" y="47.5" width="38.5" height="44" fill="#000080"/>
<rect x="1305.5" y="59.5" width="114" height="12" rx="3" fill="#a40000"/><path d="M1362.5 46H1366L1385 89H1342Z" fill="#a40000"/>
</g>
</svg>
</body></html>
